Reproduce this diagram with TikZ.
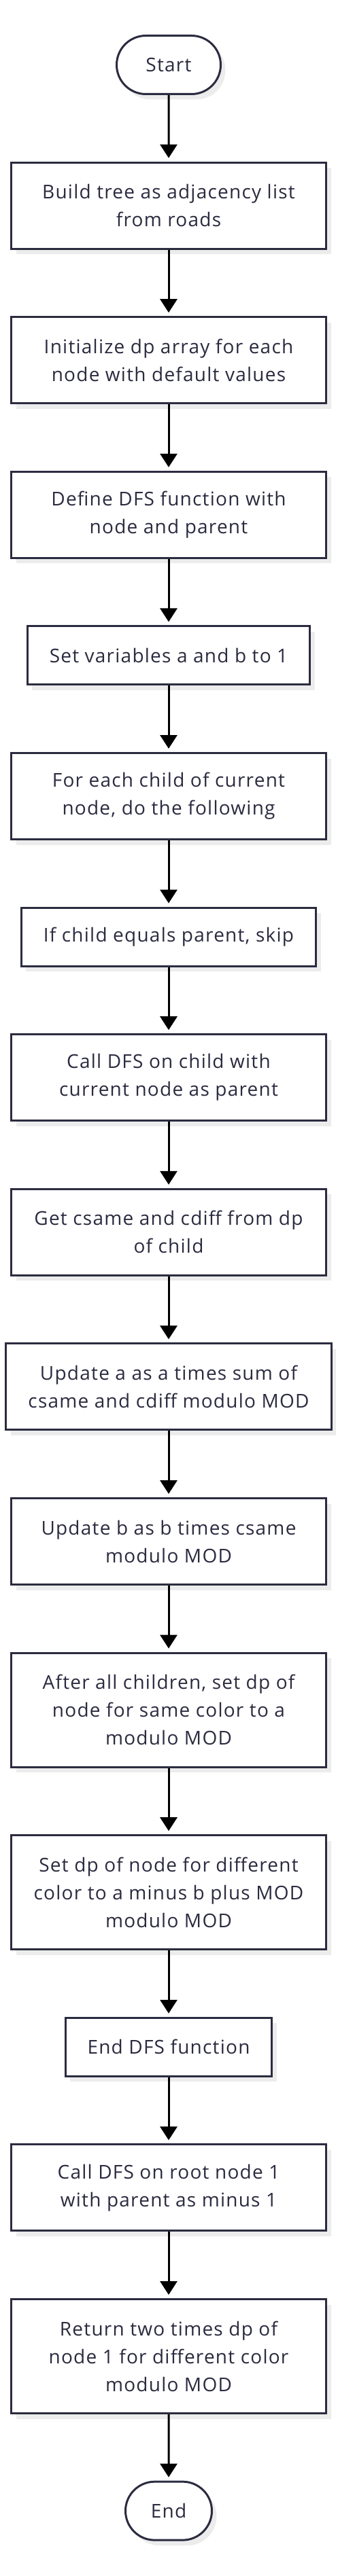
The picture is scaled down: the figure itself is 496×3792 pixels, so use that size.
\documentclass[tikz,border=0pt]{standalone}
\usepackage{fontspec}
\setmainfont{Open Sans}[LetterSpace=4.4]
\usepackage{tikz}
\usetikzlibrary{shapes,shapes.misc,arrows.meta,shadows,positioning}
\definecolor{clrBorders}{HTML}{2B2B40}
\definecolor{clrText}{HTML}{2B2B40}
\definecolor{clrShadow}{HTML}{ECECEC}
\tikzstyle{box_style0}=[draw=clrBorders, line width=3pt, fill=white,
text=clrText, anchor=center, align=center, font=\fontsize{28}{41}\selectfont,
drop shadow={shadow xshift=7pt, shadow yshift=-8pt, fill=clrShadow, opacity=1}]
\tikzstyle{diagram0}=[box_style0, inner xsep=32.5pt, inner ysep=0pt, minimum height=86pt]
\tikzstyle{diagram2}=[diagram0, minimum width=463pt, minimum height=127pt]
\tikzstyle{diagram3}=[diagram2, minimum height=168pt]
\tikzstyle{terminal}=[box_style0, rounded rectangle, inner xsep=0pt, inner ysep=0pt, minimum height=86pt]
\tikzstyle{myarrow}=[-{Triangle[width=25pt,length=20pt]}, line width=3pt, black, shorten >=5pt]

\begin{document}
\begin{tikzpicture}[node distance=97.6pt]
		\useasboundingbox (0,0) rectangle (496pt,-3792pt);

		\node[terminal, minimum width=153pt] (A) at (248pt,-95.5pt) {Start} ;

		\node[diagram2, below=of A] (B) {Build tree as adjacency list\\from roads} ;
		\draw[myarrow] (A) -- (B) ;

		\node[diagram2, below=of B] (C) {Initialize dp array for each\\node with default values} ;
		\draw[myarrow] (B) -- (C) ;

		\node[diagram2, below=of C] (D) {Define DFS function with\\node and parent} ;
		\draw[myarrow] (C) -- (D) ;

		\node[diagram0, below=of D] (E) {Set variables a and b to 1} ;
		\draw[myarrow] (D) -- (E) ;

		\node[diagram2, below=of E] (F) {For each child of current\\node, do the following} ; % loop over children
		\draw[myarrow] (E) -- (F) ;

		\node[diagram0, below=of F] (G) {If child equals parent, skip} ;
		\draw[myarrow] (F) -- (G) ;

		\node[diagram2, below=of G] (H) {Call DFS on child with\\current node as parent} ;
		\draw[myarrow] (G) -- (H) ;

		\node[diagram2, below=of H] (I) {Get csame and cdiff from dp\\of child} ;
		\draw[myarrow] (H) -- (I) ;

		\node[diagram2, below=of I] (J) {Update a as a times sum of\\csame and cdiff modulo MOD} ;
		\draw[myarrow] (I) -- (J) ;

		\node[diagram2, below=of J] (K) {Update b as b times csame\\modulo MOD} ;
		\draw[myarrow] (J) -- (K) ;

		\node[diagram3, below=of K] (L) {After all children, set dp of\\node for same color to a\\modulo MOD} ;
		\draw[myarrow] (K) -- (L) ;

		\node[diagram3, below=of L] (M) {Set dp of node for different\\color to a minus b plus MOD\\modulo MOD} ;
		\draw[myarrow] (L) -- (M) ;

		\node[diagram0, below=of M] (N) {End DFS function} ;
		\draw[myarrow] (M) -- (N) ;

		\node[diagram2, below=of N] (O) {Call DFS on root node 1\\with parent as minus 1} ; % root call
		\draw[myarrow] (N) -- (O) ;

		\node[diagram3, below=of O] (P) {Return two times dp of\\node 1 for different color\\modulo MOD} ;
		\draw[myarrow] (O) -- (P) ;

		\node[terminal, minimum width=127pt, below=of P] (Q) {End} ;
		\draw[myarrow] (P) -- (Q) ;

	\end{tikzpicture}
\end{document}
